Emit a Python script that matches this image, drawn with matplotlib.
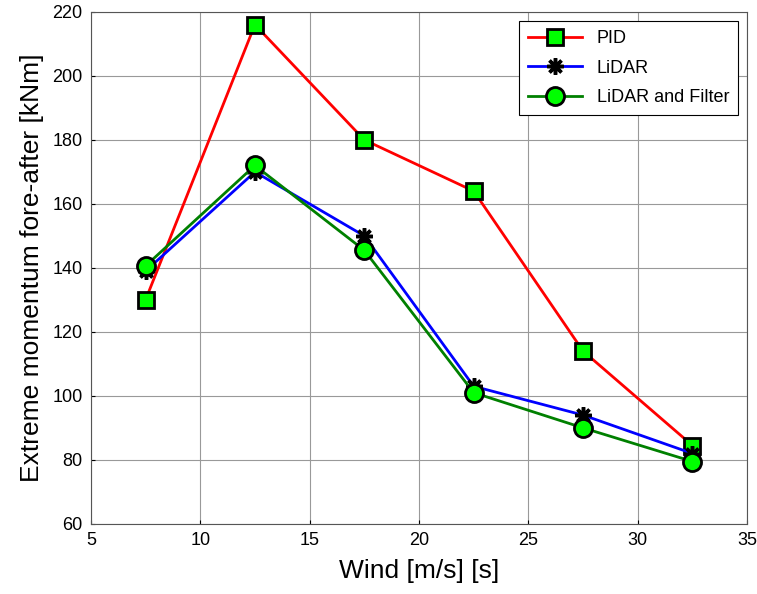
import numpy as np
import matplotlib
matplotlib.use("Agg")
import matplotlib.pyplot as plt

plt.rcParams['font.family'] = ['Liberation Sans', 'DejaVu Sans']

wind = [7.5, 12.5, 17.5, 22.5, 27.5, 32.5]
pid = [130, 216, 180, 164, 114, 84.5]
lidar = [139, 170, 150, 103, 94, 82]
lidar_filter = [140.6, 172, 145.5, 101, 90, 79.5]

fig = plt.figure(figsize=(7.57, 5.94), dpi=100)
ax = fig.add_axes([0.120, 0.118, 0.867, 0.862])

ax.plot(wind, pid, color='red', lw=2, marker='s', ms=12, mfc='#00ff00',
        mec='black', mew=2, label='PID')
ax.plot(wind, lidar, color='blue', lw=2, marker=(8, 2, 0), ms=12, mfc='black',
        mec='black', mew=2.5, label='LiDAR')
ax.plot(wind, lidar_filter, color='green', lw=2, marker='o', ms=13, mfc='#00ff00',
        mec='black', mew=2, label='LiDAR and Filter')

ax.set_xlim(5, 35)
ax.set_ylim(60, 220)
ax.set_xticks(range(5, 36, 5))
ax.set_yticks(range(60, 221, 20))
ax.grid(True, color='#999999', lw=0.8)
ax.tick_params(direction='in', labelsize=13, length=3, pad=6)
for s in ax.spines.values():
    s.set_color('#555555')

ax.set_xlabel('Wind [m/s] [s]', fontsize=19, labelpad=7)
ax.set_ylabel('Extreme momentum fore-after [kNm]', fontsize=19, labelpad=6)

leg = ax.legend(loc='upper right', fontsize=13, fancybox=False, edgecolor='black',
                framealpha=1, handlelength=3, labelspacing=0.7, borderpad=0.5,
                borderaxespad=0.5)
leg.get_frame().set_linewidth(0.8)

fig.savefig('out.png', dpi=100)
